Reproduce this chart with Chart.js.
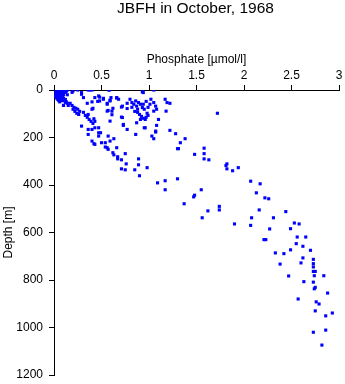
<!DOCTYPE html>
<html>
<head>
<meta charset="utf-8">
<script src="https://cdn.jsdelivr.net/npm/chart.js@4"></script>
<style>
  html, body { margin: 0; padding: 0; background: #fff; }
  #wrap { width: 345px; height: 384px; position: relative; }
</style>
</head>
<body>
<div id="wrap"><canvas id="c" width="345" height="384"></canvas></div>
<script>
const chartTitle = "JBFH in October, 1968";
const xAxisTitle = "Phosphate [µmol/l]";
const yAxisTitle = "Depth [m]";
const xTicks = [0, 0.5, 1, 1.5, 2, 2.5, 3];
const yTicks = [0, 200, 400, 600, 800, 1000, 1200];

// Phosphate [µmol/l] values
const phosphate = [
  0.02,0.04,0.06,0.08,0.10,0.12,0.14,0.03,0.05,0.07,0.09,0.11,0.13,0.02,0.04,0.06,0.08,0.10,0.12,
  0.03,0.05,0.07,0.09,0.02,0.04,0.06,0.08,0.10,0.14,0.01,0.03,0.05,0.07,0.09,0.02,0.04,0.06,0.08,
  0.03,0.05,0.07,0.10,0.04,0.06,0.08,0.12,0.05,0.09,0.06,0.13,0.10,
  0.19,0.20,0.25,0.29,0.31,0.36,0.40,0.47,0.43,0.58,0.35,
  0.19,0.21,0.23,0.25,0.27,0.22,0.24,0.26,0.20,0.17,0.14,0.12,0.15,
  0.40,0.48,0.52,0.56,0.59,0.60,0.66,0.68,0.72,0.56,0.61,0.77,
  0.80,0.82,0.84,0.86,0.87,0.89,0.91,0.93,0.94,0.82,0.88,0.85,
  0.94,1.05,0.93,1.01,1.05,1.07,1.08,1.05,0.99,1.02,0.97,0.95,
  1.17,1.19,1.22,1.18,
  0.88,0.90,0.92,0.94,0.96,0.97,0.99,0.91,0.98,1.10,
  0.31,0.33,0.35,0.37,0.39,0.41,0.43,0.36,
  0.29,0.36,0.40,0.43,0.47,0.36,0.47,0.49,0.59,0.72,0.73,0.77,0.87,0.96,1.07,0.86,1.03,1.05,
  0.40,0.43,0.47,0.50,0.54,0.57,0.59,0.63,0.56,0.57,0.66,0.62,0.63,0.67,0.67,0.75,0.71,0.76,
  0.71,0.75,0.85,0.89,0.89,0.98,0.90,1.09,1.17,1.17,1.30,1.22,1.28,1.38,1.33,1.30,1.31,1.72,
  1.58,1.48,1.58,1.58,1.63,1.82,1.81,1.82,1.88,1.94,2.07,2.17,1.55,1.48,1.47,2.13,2.22,2.26,
  1.37,1.74,1.74,1.62,2.16,2.44,1.56,2.08,2.31,1.90,2.07,2.53,2.58,2.27,2.49,2.21,2.23,2.56,
  2.65,2.55,2.62,2.49,2.70,2.33,2.42,2.62,2.73,2.38,2.60,2.73,2.73,2.73,2.75,2.47,2.74,2.84,
  2.73,2.63,2.75,2.74,2.88,2.57,2.76,2.79,2.75,2.86,2.93,2.86,2.73,2.82,
  0.38,0.58,0.29,0.10,0.40,0.41,0.46,0.48,0.52,0.56,0.59,0.66,0.71,0.77,0.57,0.61,0.62,0.42,
  0.73,0.71,0.42,0.54,0.95,1.08,1.07
];

// Depth [m] values (same order)
const depth = [
  0,0,0,0,0,0,0,5,5,5,5,5,5,10,10,10,10,10,10,
  15,15,15,15,20,20,20,20,20,20,25,25,25,25,25,30,30,30,30,
  35,35,35,35,40,40,40,40,45,45,50,50,65,
  10,4,0,18,32,0,0,25,32,0,56,
  65,73,77,81,90,90,98,103,81,56,56,52,65,
  81,46,39,60,46,32,32,39,68,89,89,78,
  39,53,60,46,68,53,60,74,60,73,81,90,
  11,0,8,60,53,68,81,89,73,39,48,81,
  39,53,56,89,
  94,103,111,119,124,115,107,124,98,124,
  94,107,115,124,132,141,132,103,
  152,166,166,159,159,187,180,180,131,116,145,166,138,159,173,187,194,205,
  215,229,194,222,222,194,215,205,243,250,243,264,273,281,290,268,294,311,
  332,336,336,290,315,327,361,391,382,420,374,170,184,205,222,247,247,98,
  245,271,268,290,294,311,318,332,340,327,384,395,420,443,450,433,454,458,
  479,490,505,509,505,512,538,538,538,564,570,560,564,585,584,630,630,619,
  619,647,658,673,675,686,689,707,713,733,728,731,745,764,764,783,782,782,
  809,807,831,837,855,880,892,901,930,951,939,1011,1020,1074,
  0,0,11,65,50,77,48,30,35,56,43,34,72,56,86,104,77,121,
  149,114,226,240,159,149,177
];

const points = phosphate.map((x, i) => ({ x: x, y: depth[i] }));

const plotTitle = {
  id: 'plotTitle',
  afterDraw(chart) {
    const ctx = chart.ctx;
    const a = chart.chartArea;
    ctx.save();
    ctx.font = '15.5px "Liberation Sans", Arial, sans-serif';
    ctx.fillStyle = '#000';
    ctx.textAlign = 'center';
    ctx.textBaseline = 'alphabetic';
    ctx.fillText(chartTitle, (a.left + a.right) / 2 - 1, 13);
    ctx.restore();
  }
};

const font = { family: '"Liberation Sans", Arial, sans-serif', size: 12 };

new Chart(document.getElementById('c'), {
  type: 'scatter',
  data: {
    datasets: [{
      data: points,
      pointStyle: 'rect',
      pointRadius: 2.2,
      pointHoverRadius: 2.2,
      borderWidth: 0,
      backgroundColor: '#0000ff',
      borderColor: '#0000ff'
    }]
  },
  options: {
    responsive: false,
    animation: false,
    events: [],
    layout: { padding: { top: 48.8, right: 6, bottom: 9, left: 0 } },
    plugins: { legend: { display: false }, tooltip: { enabled: false }, title: { display: false } },
    scales: {
      x: {
        type: 'linear',
        position: 'top',
        min: 0, max: 3,
        afterBuildTicks(s) { s.ticks = xTicks.map(v => ({ value: v })); },
        afterFit(s) { s.height = 41.2; s.paddingLeft = 0; s.paddingRight = 0; },
        ticks: { font: font, color: '#000', padding: 2, maxRotation: 0,
                 callback: v => String(v) },
        grid: { display: true, drawOnChartArea: false, drawTicks: true, tickLength: 5, color: '#000', lineWidth: 1 },
        border: { display: true, color: '#000', width: 1 },
        title: { display: true, text: xAxisTitle, font: font, color: '#000', padding: { top: 4, bottom: 4 } }
      },
      y: {
        type: 'linear',
        reverse: true,
        min: 0, max: 1200,
        afterBuildTicks(s) { s.ticks = yTicks.map(v => ({ value: v })); },
        afterFit(s) { s.width = 54; s.paddingTop = 0; s.paddingBottom = 0; },
        ticks: { font: font, color: '#000', padding: 6, callback: v => String(v) },
        grid: { display: true, drawOnChartArea: false, drawTicks: true, tickLength: 5, color: '#000', lineWidth: 1 },
        border: { display: true, color: '#000', width: 1 },
        title: { display: true, text: yAxisTitle, font: font, color: '#000', padding: { top: 1, bottom: 0 } }
      }
    }
  },
  plugins: [plotTitle]
});
</script>
</body>
</html>
